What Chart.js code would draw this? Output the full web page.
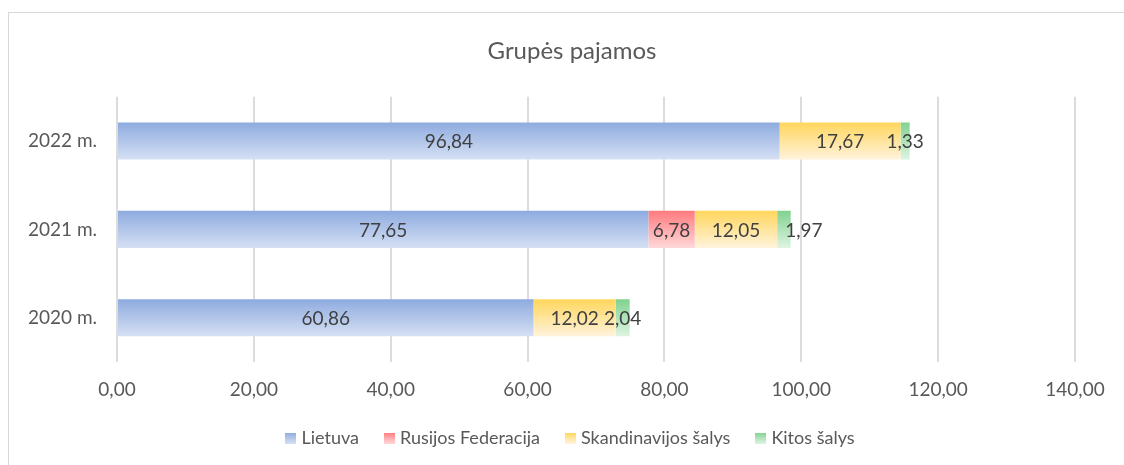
<!DOCTYPE html>
<html>
<head>
<meta charset="utf-8">
<script src="https://cdn.jsdelivr.net/npm/chart.js@4.4.0/dist/chart.umd.min.js"></script>
<style>
  html, body { margin: 0; padding: 0; background: #fff; overflow: hidden; }
  #wrap { position: relative; width: 1124px; height: 465px; overflow: hidden; }
  #frame { position: absolute; left: 8px; top: 12px; width: 1200px; height: 500px; border: 1px solid #d9d9d9; box-sizing: border-box; }
  canvas { position: absolute; left: 0; top: 0; }
</style>
</head>
<body>
<div id="wrap">
  <div id="frame"></div>
  <canvas id="chart" width="1144" height="465"></canvas>
</div>
<script>
  // Chart data (Excel style: first category at the bottom)
  const years = ["2020 m.", "2021 m.", "2022 m."];
  const lietuva = [60.86, 77.65, 96.84];
  const rusija = [0, 6.78, 0];
  const skandinavija = [12.02, 12.05, 17.67];
  const kitos = [2.04, 1.97, 1.33];
  const seriesNames = ["Lietuva", "Rusijos Federacija", "Skandinavijos šalys", "Kitos šalys"];
  const xTicks = [0, 20, 40, 60, 80, 100, 120, 140];

  const FONT = "Lato, 'Open Sans', sans-serif";
  const barPct = 0.42;

  // light gradient colours (top -> bottom)
  const fills = [
    ["#8eabdf", "#d5e0f4"],
    ["#ff7a7e", "#ffd8d9"],
    ["#ffd65c", "#fff3dc"],
    ["#80d290", "#def4e2"],
  ];

  const fmt = (v) => v.toFixed(2).replace(".", ",");

  // vertical gradient for each bar, worked out from the category scale
  const barFill = (pair) => (c) => {
    const chart = c.chart;
    const area = chart.chartArea;
    if (!area || c.dataIndex === undefined) return pair[0];
    const y = chart.scales.y.getPixelForValue(c.dataIndex);
    const half = (area.height / years.length) * barPct / 2;
    const g = chart.ctx.createLinearGradient(0, y - half, 0, y + half);
    g.addColorStop(0, pair[0]);
    g.addColorStop(1, pair[1]);
    return g;
  };

  // small gradient squares for the legend
  const legendBox = (pair) => {
    const cv = document.createElement("canvas");
    cv.width = 11;
    cv.height = 11;
    const cx = cv.getContext("2d");
    const g = cx.createLinearGradient(0, 0, 0, 11);
    g.addColorStop(0, pair[0]);
    g.addColorStop(1, pair[1]);
    cx.fillStyle = g;
    cx.fillRect(0, 0, 11, 11);
    return cv;
  };

  // value labels in the middle of each segment
  const valueLabels = {
    id: "valueLabels",
    afterDatasetsDraw(chart, args, opts) {
      const ctx = chart.ctx;
      ctx.save();
      ctx.font = "19px " + FONT;
      ctx.fillStyle = "#404040";
      ctx.textAlign = "center";
      ctx.textBaseline = "middle";
      chart.data.datasets.forEach((ds, i) => {
        const meta = chart.getDatasetMeta(i);
        meta.data.forEach((bar, j) => {
          const v = ds.data[j];
          if (!v) return;
          const p = bar.getProps(["x", "y", "base"], true);
          const nudge = (opts.nudge && opts.nudge[i + "-" + j]) || 0;
          ctx.fillText(fmt(v), (p.x + p.base) / 2 + nudge, p.y + 1);
        });
      });
      ctx.restore();
    },
  };

  const allSeries = [lietuva, rusija, skandinavija, kitos];

  const chartCtx = document.getElementById("chart").getContext("2d");
  new Chart(chartCtx, {
    type: "bar",
    data: {
      labels: years,
      datasets: allSeries.map((data, i) => ({
        label: seriesNames[i],
        data: data,
        backgroundColor: barFill(fills[i]),
        borderWidth: 0,
        barPercentage: barPct,
        categoryPercentage: 1,
        pointStyle: legendBox(fills[i]),
      })),
    },
    options: {
      indexAxis: "y",
      responsive: false,
      animation: false,
      layout: { padding: { left: 0, right: 0, top: 0, bottom: 8 } },
      scales: {
        x: {
          stacked: true,
          min: 0,
          max: 140,
          afterBuildTicks: (scale) => {
            scale.ticks = xTicks.map((v) => ({ value: v }));
          },
          afterFit: (scale) => { scale.height = 38; },
          ticks: {
            callback: (v) => fmt(v),
            color: "#595959",
            font: { family: FONT, size: 19 },
            padding: 16,
            maxRotation: 0,
          },
          grid: { color: "#dcdcdc", lineWidth: 2, drawTicks: false },
          border: { display: false },
        },
        y: {
          stacked: true,
          reverse: true,
          afterFit: (scale) => { scale.width = 117; },
          ticks: {
            color: "#595959",
            font: { family: FONT, size: 19 },
            padding: 20,
          },
          grid: { display: false, drawTicks: false },
          border: { display: false },
        },
        // empty right axis, keeps the plot clear of the frame's right side
        spacer: {
          type: "linear",
          position: "right",
          afterFit: (scale) => { scale.width = 69; },
          ticks: { display: false },
          grid: { display: false, drawTicks: false },
          border: { display: false },
        },
      },
      plugins: {
        title: {
          display: true,
          text: "Grupės pajamos",
          color: "#595959",
          font: { family: FONT, size: 24, weight: "normal" },
          padding: { top: 37, bottom: 31 },
        },
        legend: {
          position: "bottom",
          labels: {
            usePointStyle: true,
            boxWidth: 3,
            boxHeight: 11,
            padding: 29,
            color: "#595959",
            font: { family: FONT, size: 18 },
          },
        },
        tooltip: { enabled: false },
        valueLabels: { nudge: { "3-1": 20 } },
      },
    },
    plugins: [valueLabels],
  });
</script>
</body>
</html>
